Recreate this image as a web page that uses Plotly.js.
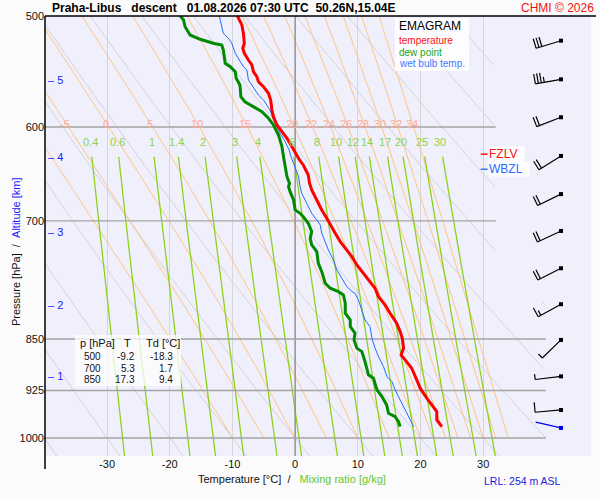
<!DOCTYPE html>
<html>
<head>
<meta charset="utf-8">
<script src="https://cdn.plot.ly/plotly-3.0.1.min.js"></script>
<style>
	body { margin: 0; background: #fbfbfb; }
	#chart { width: 600px; height: 500px; }
</style>
</head>
<body>
<div id="chart"></div>
<script>
// sounding: pressure [hPa] and temperature [°C]
const tempP = [500, 503.3, 507.4, 514.4, 522.9, 527.2, 531.6, 537.5, 541.9, 547.9, 552.4, 557.0, 561.5, 567.7, 574.0, 583.5, 589.9, 598.0, 604.6, 611.2, 619.7, 628.2, 633.4, 638.6, 649.2, 658.1, 665.4, 676.4, 687.6, 697.0, 704.7, 714.4, 724.3, 732.2, 742.4, 752.6, 762.9, 773.5, 781.9, 792.8, 803.6, 814.7, 828.1, 839.6, 848.8, 862.8, 872.4, 879.6, 891.7, 909.0, 921.4, 936.7, 949.7, 957.5, 970.7, 981.4];
const tempT = [-9.2, -8.9, -8.5, -8.25, -8.1, -8.35, -8.1, -7.45, -6.9, -6.65, -6.1, -5.85, -5.05, -4.25, -3.9, -3.7, -3.45, -2.9, -2.1, -1.3, -0.5, 0.25, 0.7, 1.3, 2.1, 2.3, 2.65, 3.45, 4.25, 5.05, 5.6, 6.4, 7.2, 8.0, 9.05, 9.85, 10.9, 12.0, 12.75, 13.3, 14.35, 15.15, 16.2, 16.75, 17.1, 17.3, 16.9, 17.55, 18.6, 19.4, 19.95, 21.0, 22.05, 22.6, 22.6, 23.4];

const dewP = [500, 503.3, 508.9, 515.8, 519.5, 522.9, 524.4, 528.7, 540.4, 543.4, 547.9, 553.9, 560.0, 570.9, 575.6, 580.3, 585.1, 591.5, 598.0, 607.9, 619.7, 630.0, 640.4, 651.0, 658.1, 661.8, 667.2, 676.4, 687.6, 691.4, 695.2, 702.8, 712.5, 720.5, 728.2, 736.2, 750.5, 760.9, 775.5, 781.9, 786.3, 790.6, 801.5, 814.7, 823.7, 832.8, 841.9, 851.2, 862.8, 867.7, 882.1, 901.5, 906.4, 924.0, 934.2, 947.1, 960.1, 965.5, 973.5, 981.4];
const dewT = [-18.3, -17.8, -17.55, -16.75, -15.15, -13.05, -11.7, -11.45, -11.15, -10.35, -9.55, -9.4, -8.8, -8.65, -8.0, -6.65, -5.3, -4.25, -3.45, -2.65, -2.1, -1.85, -1.6, -1.3, -0.9, -1.05, -0.8, -0.25, 0, 0.8, 1.3, 2.1, 2.65, 2.4, 2.65, 3.45, 3.7, 4.25, 4.8, 5.6, 6.9, 7.7, 8.0, 8.0, 8.8, 8.8, 9.55, 9.4, 9.85, 10.65, 11.15, 11.7, 12.5, 13.05, 13.85, 14.6, 14.9, 15.95, 16.5, 16.75];

const wetP = [500, 506.0, 514.4, 518.6, 522.9, 531.6, 539.0, 543.4, 546.4, 555.4, 560.0, 564.6, 569.3, 574.0, 578.7, 583.5, 593.1, 598.0, 606.2, 614.6, 623.1, 630.0, 640.4, 651.0, 661.8, 669.0, 680.1, 691.4, 699.0, 704.7, 714.4, 724.3, 734.2, 746.4, 758.8, 769.2, 779.9, 786.3, 788.4, 797.1, 810.3, 823.7, 832.8, 848.8, 862.8, 874.9, 889.4, 904.1, 911.6, 924.0, 939.3, 954.9, 965.5, 981.4];
const wetT = [-12.1, -11.85, -11.45, -10.65, -10.1, -9.55, -8.8, -8.25, -7.7, -7.45, -6.9, -6.4, -5.85, -5.05, -4.5, -4.0, -3.45, -3.1, -2.4, -1.6, -0.95, -0.65, 0, 0.55, 0.8, 1.05, 1.85, 2.65, 3.45, 4.0, 4.25, 4.8, 5.3, 6.1, 6.65, 7.45, 8.25, 9.1, 9.55, 10.1, 10.65, 11.15, 11.95, 12.25, 12.75, 13.3, 14.1, 14.65, 15.45, 15.95, 16.75, 17.55, 18.1, 18.9];

// wind barbs (pressure, direction from [deg], speed [kt]); last one is the surface
const windP = [520.7, 554.8, 590.5, 629.2, 669.9, 711.7, 756.7, 802.7, 851.2, 903.7, 955.0, 983.6];
const windDir = [253, 260, 249, 238, 244, 245, 243, 241, 226, 263, 265, 283];
const windKt = [30, 35, 20, 20, 20, 20, 20, 15, 5, 5, 10, 0];

// background isopleths
const isobars = [600, 700, 850, 925, 1000];
const isotherms = [-30, -20, -10, 0, 10, 20, 30];
const dryTheta = [-40, -30, -20, -10, 0, 10, 20, 30, 40, 50, 60, 70, 80, 90, 100];
const wetTheta = [-10, -5, 0, 5, 10, 15, 20, 22, 24, 26, 28, 30, 32, 34];
const mixRatio = [0.4, 0.6, 1, 1.4, 2, 3, 4, 6, 8, 10, 12, 14, 17, 20, 25, 30];

// table and markers
const tabP = [500, 700, 850];
const tabT = [-9.2, 5.3, 17.3];
const tabTd = [-18.3, 1.7, 9.4];
const altKm = [1, 2, 3, 4, 5];
const altP = [903.9, 803.6, 712.5, 630.0, 555.4];
const fzlvP = 627.4;
const wbzlP = 643.1;

const FONT = 'Liberation Sans, Arial, sans-serif';
const P_BOT = 1030, P_TOP = 500;
const X_RANGE = [-39.9, 47.2];
const PLOT = {l: 45, t: 16, w: 546, h: 440};
const PX_PER_DEC = PLOT.h / (Math.log10(P_BOT) - Math.log10(P_TOP));

// paper coords from pixel positions
const px = x => (x - PLOT.l) / PLOT.w;
const py = y => (PLOT.t + PLOT.h - y) / PLOT.h;

function right_limit(p) {
	return p < 800 ? 32 : 40;
}

function sat_vap(tc) {
	return 6.112 * Math.exp(17.67 * tc / (tc + 243.5));
}

function dew_from_mix(w, p) {
	const e = w * p / (622 + w);
	const l = Math.log(e / 6.112);
	return 243.5 * l / (17.67 - l);
}

function moist_rate(tk, p) {
	const es = sat_vap(tk - 273.15);
	const rs = 0.622 * es / (p - es);
	return (287.04 * tk + 2.501e6 * rs) / (p * (1005.7 + 2.501e6 * 2.501e6 * rs * 0.622 / (287.04 * tk * tk)));
}

function pseudo_adiabat(thw) {
	const ps = [], ts = [];
	let tk = thw + 273.15;
	let label = null;
	for (let p = 1000; p >= 500; p -= 5) {
		ps.push(p);
		ts.push(tk - 273.15);
		if (p === 595) label = tk - 273.15;
		const mid = tk - moist_rate(tk, p) * 2.5;
		tk -= moist_rate(mid, p - 2.5) * 5;
	}
	return {p: ps, t: ts, label: label};
}

let traces = [];

function add_line(x, y, color, width, extra) {
	traces.push(Object.assign({
		x: x, y: y, type: 'scatter', mode: 'lines', hoverinfo: 'skip',
		line: {color: color, width: width}
	}, extra || {}));
}

// dry adiabats
dryTheta.forEach(th => {
	let x = [], y = [];
	for (let p = P_BOT; p >= P_TOP; p -= 2) {
		const t = (th + 273.15) * Math.pow(p / 1000, 0.2857) - 273.15;
		x.push(t <= right_limit(p) ? t : null);
		y.push(p);
	}
	add_line(x, y, '#d3d3d8', 1);
});

// pseudo adiabats
let annotations = [];
wetTheta.forEach(th => {
	const m = pseudo_adiabat(th);
	add_line(m.t, m.p, '#ffc485', 1);
	if (m.label > -38) {
		annotations.push({
			x: m.label, y: Math.log10(597), xref: 'x', yref: 'y', text: String(th),
			showarrow: false, font: {family: FONT, size: 11, color: '#ffaa98'}
		});
	}
});

// mixing ratio lines
mixRatio.forEach(w => {
	let x = [], y = [];
	for (let p = P_BOT; p >= 630; p -= 10) {
		x.push(dew_from_mix(w, p));
		y.push(p);
	}
	add_line(x, y, '#8cd21c', 1.3);
	annotations.push({
		x: dew_from_mix(w, 615), y: Math.log10(615), xref: 'x', yref: 'y', text: String(w),
		showarrow: false, font: {family: FONT, size: 11, color: '#8fd24a'}
	});
});

// isotherm 0 and isobars
add_line([0, 0], [P_BOT, P_TOP], '#8e8e8e', 1.4);
isobars.forEach(p => add_line([X_RANGE[0], right_limit(p)], [p, p], '#a4a4a4', 1.4));

// profiles
add_line(wetT, wetP, '#1f6cff', 1);
add_line(dewT, dewP, '#008a00', 3);
add_line(tempT, tempP, '#ff0000', 3);

// freezing level markers
add_line([29.6, 30.7], [fzlvP, fzlvP], '#ff0000', 1.4);
add_line([29.6, 30.7], [wbzlP, wbzlP], '#2a6cff', 1.4);

// wind barbs drawn in pixel units on a hidden x axis
function barb(p, dir, kt) {
	const rad = dir * Math.PI / 180;
	const sx = Math.sin(rad), sy = -Math.cos(rad);
	const nx = -sy, ny = sx;
	const x0 = 516, len = 26;
	const pt = (dx, dy) => [x0 + dx, p * Math.pow(10, dy / PX_PER_DEC)];
	let segs = [[pt(0, 0), pt(sx * len, sy * len)]];
	let d = len;
	for (let i = 0; i < Math.floor(kt / 10); i++) {
		segs.push([pt(sx * d, sy * d), pt(sx * d + nx * 10, sy * d + ny * 10)]);
		d -= 3;
	}
	if (kt % 10 >= 5) {
		segs.push([pt(sx * d, sy * d), pt(sx * d + nx * 5.5, sy * d + ny * 5.5)]);
	}
	return segs;
}

let bx = [], by = [], sbx = [], sby = [];
windP.forEach((p, i) => {
	const surface = i === windP.length - 1;
	barb(p, windDir[i], windKt[i]).forEach(s => {
		(surface ? sbx : bx).push(s[0][0], s[1][0], null);
		(surface ? sby : by).push(s[0][1], s[1][1], null);
	});
});
add_line(bx, by, '#000000', 1.2, {xaxis: 'x2'});
add_line(sbx, sby, '#0000ee', 1.3, {xaxis: 'x2'});
traces.push({
	x: windP.map(() => 516), y: windP, xaxis: 'x2', type: 'scatter', mode: 'markers', hoverinfo: 'skip',
	marker: {symbol: 'square', size: 4, color: windP.map((p, i) => i === windP.length - 1 ? '#0000ee' : '#000000')}
});

// altitude marks
altKm.forEach((km, i) => {
	annotations.push({
		x: X_RANGE[0], y: Math.log10(altP[i]), xref: 'x', yref: 'y', xanchor: 'left', xshift: 1,
		text: '\u2013 ' + km, showarrow: false, font: {family: FONT, size: 11, color: '#1a1aff'}
	});
});

function paper_text(x, y, text, size, color, anchor, extra) {
	annotations.push(Object.assign({
		x: px(x), y: py(y), xref: 'paper', yref: 'paper', xanchor: anchor || 'left', yanchor: 'middle',
		text: text, showarrow: false, font: {family: FONT, size: size, color: color}
	}, extra || {}));
}

// legend
paper_text(397, 26, 'EMAGRAM', 12, '#000000');
paper_text(396.5, 40.8, 'temperature', 10, '#ff1010');
paper_text(396.5, 52.2, 'dew point', 10, '#22a322');
paper_text(396.5, 63.6, 'wet bulb temp.', 10, '#3a7bff');

// table
paper_text(77.5, 343.3, 'p [hPa]', 11, '#111111');
paper_text(127, 343.3, 'T', 11, '#111111', 'center');
paper_text(143.5, 343.3, 'Td [°C]', 11, '#111111');
const rowY = [356.6, 368.1, 379.6];
tabP.forEach((p, i) => {
	paper_text(102.5, rowY[i], String(p), 10, '#111111', 'right');
	paper_text(137, rowY[i], tabT[i].toFixed(1), 10, '#111111', 'right');
	paper_text(174.5, rowY[i], tabTd[i].toFixed(1), 10, '#111111', 'right');
});

// freezing levels
annotations.push({
	x: 30.7, y: Math.log10(fzlvP), xref: 'x', yref: 'y', xanchor: 'left', text: 'FZLV\u00a0\u00a0',
	showarrow: false, bgcolor: 'rgba(255,255,255,0.85)', borderpad: 0,
	font: {family: FONT, size: 12, color: '#ff1010'}
});
annotations.push({
	x: 30.7, y: Math.log10(wbzlP), xref: 'x', yref: 'y', xanchor: 'left', text: 'WBZL\u00a0\u00a0',
	showarrow: false, bgcolor: 'rgba(255,255,255,0.85)', borderpad: 0,
	font: {family: FONT, size: 12, color: '#2a6cff'}
});

// titles
paper_text(50, 7.5, '<b>Praha-Libus\u00a0\u00a0\u00a0descent\u00a0\u00a0\u00a001.08.2026 07:30 UTC\u00a0\u00a050.26N,15.04E</b>', 12, '#000000');
paper_text(596, 7.5, 'CHMI © 2026', 12, '#ee1111', 'right');
paper_text(292, 479, 'Temperature [°C]\u00a0\u00a0/\u00a0\u00a0\u00a0<span style="color:#66c72e">Mixing ratio [g/kg]</span>', 11, '#111111', 'center');
paper_text(482, 481, 'LRL: 254 m ASL', 10.5, '#2222dd');
annotations.push({
	x: px(8), y: py(252), xref: 'paper', yref: 'paper', textangle: -90,
	text: 'Pressure [hPa]\u00a0\u00a0/\u00a0\u00a0<span style="color:#1a1aff">Altitude [km]</span>',
	showarrow: false, font: {family: FONT, size: 11, color: '#111111'}
});

const shapes = [
	{type: 'rect', xref: 'paper', yref: 'paper', x0: px(395), x1: px(469), y0: py(71), y1: py(18),
		fillcolor: 'rgba(255,255,255,0.85)', line: {width: 0}},
	{type: 'rect', xref: 'paper', yref: 'paper', x0: px(75), x1: px(181), y0: py(386), y1: py(335),
		fillcolor: 'rgba(255,255,255,0.75)', line: {width: 0}},
	{type: 'line', xref: 'paper', yref: 'paper', x0: px(45), x1: px(596), y0: 1, y1: 1,
		line: {color: '#000000', width: 1.5}},
	{type: 'line', xref: 'paper', yref: 'paper', x0: 0, x1: 0, y0: py(469), y1: 1,
		line: {color: '#000000', width: 1.5}}
];

const layout = {
	width: 600,
	height: 500,
	margin: {l: PLOT.l, r: 600 - PLOT.l - PLOT.w, t: PLOT.t, b: 500 - PLOT.t - PLOT.h},
	paper_bgcolor: '#fbfbfb',
	plot_bgcolor: '#f0f0fc',
	showlegend: false,
	font: {family: FONT, size: 11, color: '#111111'},
	xaxis: {
		range: X_RANGE,
		tickvals: isotherms,
		ticktext: isotherms.map(String),
		showgrid: true,
		gridcolor: '#d6d6d9',
		gridwidth: 1,
		zeroline: false,
		showline: false,
		ticks: '',
		tickfont: {family: FONT, size: 11, color: '#111111'}
	},
	xaxis2: {overlaying: 'x', range: [0, PLOT.w], visible: false},
	yaxis: {
		type: 'log',
		range: [Math.log10(P_BOT), Math.log10(P_TOP)],
		tickvals: [500, 600, 700, 850, 925, 1000],
		ticktext: ['500', '600', '700', '850', '925', '1000'],
		showgrid: false,
		zeroline: false,
		showline: false,
		ticks: '',
		tickfont: {family: FONT, size: 11, color: '#111111'}
	},
	shapes: shapes,
	annotations: annotations
};

Plotly.newPlot('chart', traces, layout, {displayModeBar: false, staticPlot: true});
</script>
</body>
</html>
